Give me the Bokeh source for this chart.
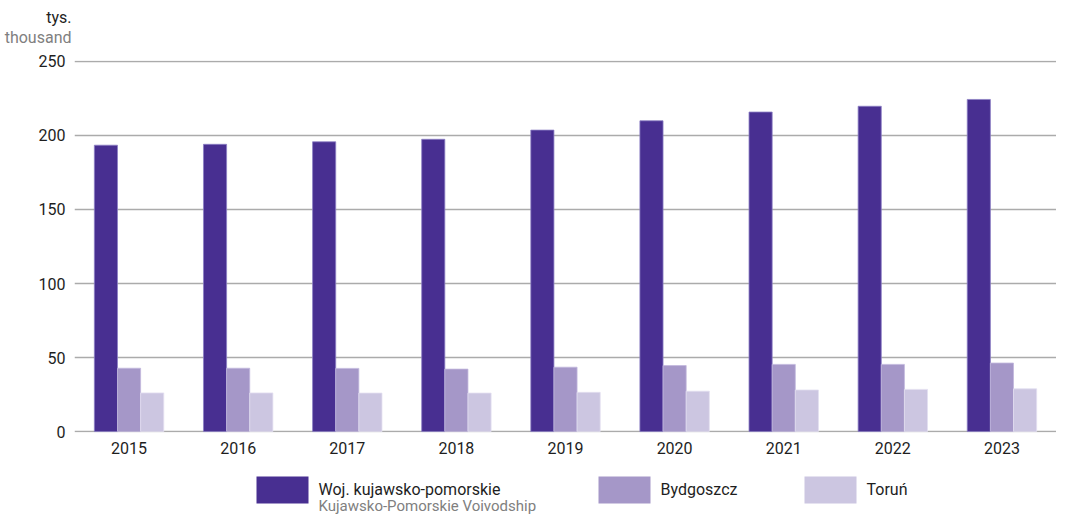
from bokeh.plotting import figure
from bokeh.models import FactorRange, Range1d, SingleIntervalTicker, FixedTicker, ColumnDataSource
from bokeh.transform import dodge
from bokeh.layouts import column
from bokeh.core.properties import value
from bokeh.embed import file_html
from bokeh.resources import INLINE

years = ["2015", "2016", "2017", "2018", "2019", "2020", "2021", "2022", "2023"]
woj = [193.4, 194.0, 195.7, 197.4, 203.6, 209.9, 215.8, 219.7, 224.3]
bydgoszcz = [42.8, 42.8, 42.7, 42.2, 43.5, 44.6, 45.4, 45.4, 46.3]
torun = [26.1, 26.1, 26.0, 26.0, 26.5, 27.3, 28.1, 28.5, 28.9]

series_names = ["Woj. kujawsko-pomorskie", "Bydgoszcz", "Toruń"]
series_sub = ["Kujawsko-Pomorskie Voivodship", "", ""]
y_title = "tys."
y_title_en = "thousand"

colors = ["#482f91", "#a597c8", "#ccc6e1"]
edges = ["#8c7fc4", "#c2b8dd", "#e2def0"]
FONT = "Roboto"
DARK = "#1e1e1e"
GRAY = "#808080"
W = 1056
LEFT = 74


def style_axis(ax, color, size="16px", standoff=9):
    ax.axis_line_color = None
    ax.major_tick_line_color = None
    ax.minor_tick_line_color = None
    ax.major_tick_out = 0
    ax.major_tick_in = 0
    ax.minor_tick_out = 0
    ax.minor_tick_in = 0
    ax.major_label_standoff = standoff
    ax.major_label_text_font = FONT
    ax.major_label_text_font_size = size
    ax.major_label_text_color = color


def blank(h, xr, yr, axis_left=False):
    f = figure(width=W, height=h, x_range=xr, y_range=yr,
               x_axis_type=None, y_axis_type="linear" if axis_left else None,
               output_backend="svg", toolbar_location=None,
               min_border_left=LEFT, min_border_right=0, min_border_top=0, min_border_bottom=0)
    f.outline_line_color = None
    f.grid.grid_line_color = None
    return f


def caption(h, pos, text, color):
    f = blank(h, Range1d(0, 1), Range1d(0, h), axis_left=True)
    ax = f.yaxis[0]
    ax.ticker = FixedTicker(ticks=[pos])
    ax.major_label_overrides = {pos: text}
    style_axis(ax, color, standoff=3)
    return f


# --- top: unit caption (two lines, two colours)
cap1 = caption(26, 9.5, y_title, DARK)
cap2 = caption(25, 14.5, y_title_en, GRAY)

# --- main chart
src = ColumnDataSource(dict(years=years, woj=woj, byd=bydgoszcz, tor=torun))
p = figure(x_range=FactorRange(*years, start=0, end=8.78), y_range=Range1d(-0.6, 250.6),
           width=W, height=415, output_backend="svg", toolbar_location=None,
           min_border_left=LEFT, min_border_right=0, min_border_top=9, min_border_bottom=34)

bw = 0.212
for col, off, c, e in zip(["woj", "byd", "tor"], [-bw, 0, bw], colors, edges):
    p.vbar(x=dodge("years", off, range=p.x_range), top=col, width=bw, source=src,
           fill_color=c, line_color=e, line_width=0.8)

p.outline_line_color = None
p.xgrid.grid_line_color = None
p.ygrid.grid_line_color = "#ababab"
p.ygrid.grid_line_width = 1.6
p.yaxis.ticker = SingleIntervalTicker(interval=50)
style_axis(p.xaxis[0], DARK, standoff=9)
style_axis(p.yaxis[0], DARK, standoff=9)

# --- legend (frame starts at LEFT, so x range is in page pixels)
leg = blank(49, Range1d(LEFT, W), Range1d(49, 0))
sw_left = [256, 598, 804]
leg.quad(left=sw_left, right=[l + 52 for l in sw_left], top=[10] * 3, bottom=[37] * 3,
         fill_color=colors, line_color=None)
leg.text(x=[l + 62 for l in sw_left], y=[23] * 3, text=series_names, text_align="left",
         text_baseline="alphabetic", text_font=value(FONT), text_font_size="16px", text_color=DARK)
leg.text(x=[sw_left[0] + 62], y=[39], text=[series_sub[0]], text_align="left",
         text_baseline="alphabetic", text_font=value(FONT), text_font_size="15px", text_color=GRAY)

layout = column(cap1, cap2, p, leg, spacing=0)
open("out.html", "w").write(file_html(layout, INLINE))
